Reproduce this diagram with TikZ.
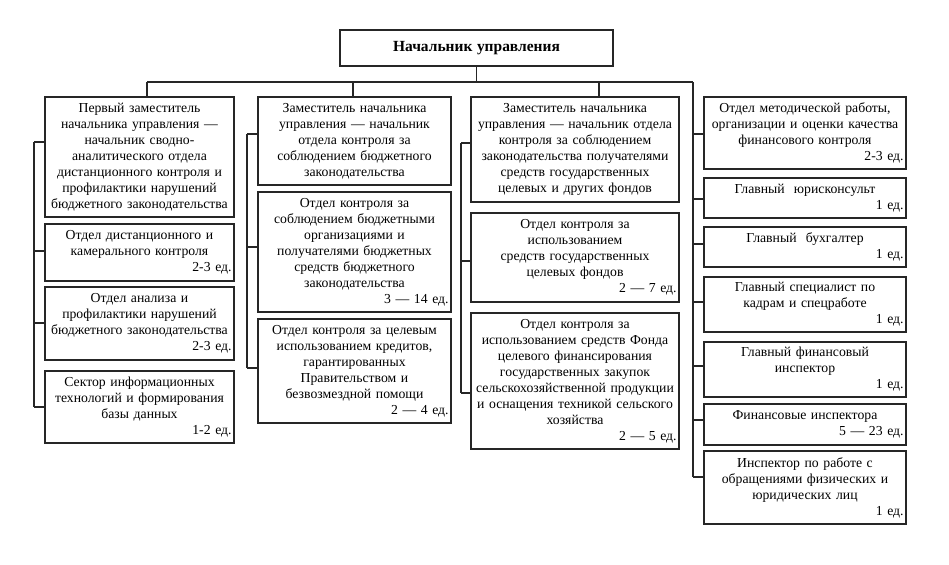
\documentclass[tikz,border=0pt]{standalone}
\usepackage{fontspec}
\setmainfont{Liberation Serif}
\newcommand\obox[6]{%
 \pgfmathsetmacro\bxcx{(#2+#4)/2}\pgfmathsetmacro\bxcy{(#3+#5)/2}%
 \pgfmathsetmacro\bxw{(#4-#2)*0.75}\pgfmathsetmacro\bxh{(#5-#3)*0.75}%
 \pgfmathsetmacro\bxt{(#4-#2)*0.75-3.6}%
 \node[orgbox, minimum width=\bxw pt, minimum height=\bxh pt, text width=\bxt pt] (#1) at (\bxcx,\bxcy) {#6};}
\newcommand\ed[1]{\\\hspace*{\fill}#1}
\begin{document}
\begin{tikzpicture}[x=0.75pt,y=-0.75pt,
  orgbox/.style={draw=black!85, line width=1.1pt, inner xsep=1.8pt, inner ysep=0.5pt, align=center, font=\fontsize{10.3}{12}\selectfont},
  conn/.style={draw=black!85, line width=0.8pt}]
\useasboundingbox (0,0) rectangle (949,564);
\obox{top}{340}{30}{613}{66}{\fontsize{11.6}{13}\selectfont\bfseries Начальник управления}
% column 1
\obox{a1}{45}{97}{234}{217}{Первый заместитель\\начальника управления —\\начальник сводно-\\аналитического отдела\\дистанционного контроля и\\профилактики нарушений\\бюджетного законодательства}
\obox{a2}{45}{224}{234}{281}{Отдел дистанционного и\\камерального контроля\ed{2-3 ед.}}
\obox{a3}{45}{287}{234}{360}{Отдел анализа и\\профилактики нарушений\\бюджетного законодательства\ed{2-3 ед.}}
\obox{a4}{45}{371}{234}{443}{Сектор информационных\\технологий и формирования\\базы данных\ed{1-2 ед.}}
% column 2
\obox{b1}{258}{97}{451}{185}{Заместитель начальника\\управления — начальник\\отдела контроля за\\соблюдением бюджетного\\законодательства}
\obox{b2}{258}{192}{451}{312}{Отдел контроля за\\соблюдением бюджетными\\организациями и\\получателями бюджетных\\средств бюджетного\\законодательства\ed{3 — 14 ед.}}
\obox{b3}{258}{319}{451}{423}{Отдел контроля за целевым\\использованием кредитов,\\гарантированных\\Правительством и\\безвозмездной помощи\ed{2 — 4 ед.}}
% column 3
\obox{c1}{471}{97}{679}{202}{Заместитель начальника\\управления — начальник отдела\\контроля за соблюдением\\законодательства получателями\\средств государственных\\целевых и других фондов}
\obox{c2}{471}{213}{679}{302}{Отдел контроля за\\использованием\\средств государственных\\целевых фондов\ed{2 — 7 ед.}}
\obox{c3}{471}{313}{679}{449}{Отдел контроля за\\использованием средств Фонда\\целевого финансирования\\государственных закупок\\сельскохозяйственной продукции\\и оснащения техникой сельского\\хозяйства\ed{2 — 5 ед.}}
% column 4
\obox{d1}{704}{97}{906}{169}{Отдел методической работы,\\организации и оценки качества\\финансового контроля\ed{2-3 ед.}}
\obox{d2}{704}{178}{906}{218}{Главный\ \ юрисконсульт\ed{1 ед.}}
\obox{d3}{704}{227}{906}{267}{Главный\ \ бухгалтер\ed{1 ед.}}
\obox{d4}{704}{277}{906}{332}{Главный специалист по\\кадрам и спецработе\ed{1 ед.}}
\obox{d5}{704}{342}{906}{397}{Главный финансовый\\инспектор\ed{1 ед.}}
\obox{d6}{704}{404}{906}{445}{Финансовые инспектора\ed{5 — 23 ед.}}
\obox{d7}{704}{451}{906}{524}{Инспектор по работе с\\обращениями физических и\\юридических лиц\ed{1 ед.}}
% bus
\coordinate (busC) at (476.5,82);
\coordinate (busL) at (147,82);
\coordinate (busR) at (693,82);
\coordinate (drB) at (353,82);
\coordinate (drC) at (599,82);
\draw[conn] (top.south) -- (busC);
\draw[conn] (busL) -- (busR);
\draw[conn] (busL) -- (busL |- a1.north);
\draw[conn] (drB) -- (drB |- b1.north);
\draw[conn] (drC) -- (drC |- c1.north);
% column 1 spine
\coordinate (sa1) at (34,142);
\coordinate (sa2) at (34,251);
\coordinate (sa3) at (34,323);
\coordinate (sa4) at (34,407);
\draw[conn] (sa1) -- (sa4);
\foreach \s/\b in {sa1/a1,sa2/a2,sa3/a3,sa4/a4} \draw[conn] (\s) -- (\s -| \b.west);
% column 2 spine
\coordinate (sb1) at (247,134);
\coordinate (sb2) at (247,247);
\coordinate (sb3) at (247,368);
\draw[conn] (sb1) -- (sb3);
\foreach \s/\b in {sb1/b1,sb2/b2,sb3/b3} \draw[conn] (\s) -- (\s -| \b.west);
% column 3 spine
\coordinate (sc1) at (461,143);
\coordinate (sc2) at (461,261);
\coordinate (sc3) at (461,393);
\draw[conn] (sc1) -- (sc3);
\foreach \s/\b in {sc1/c1,sc2/c2,sc3/c3} \draw[conn] (\s) -- (\s -| \b.west);
% column 4 spine
\coordinate (sd1) at (693,134);
\coordinate (sd2) at (693,199);
\coordinate (sd3) at (693,244);
\coordinate (sd4) at (693,302);
\coordinate (sd5) at (693,366);
\coordinate (sd6) at (693,420);
\coordinate (sd7) at (693,477);
\draw[conn] (busR) -- (sd7);
\foreach \s/\b in {sd1/d1,sd2/d2,sd3/d3,sd4/d4,sd5/d5,sd6/d6,sd7/d7} \draw[conn] (\s) -- (\s -| \b.west);
\end{tikzpicture}
\end{document}
